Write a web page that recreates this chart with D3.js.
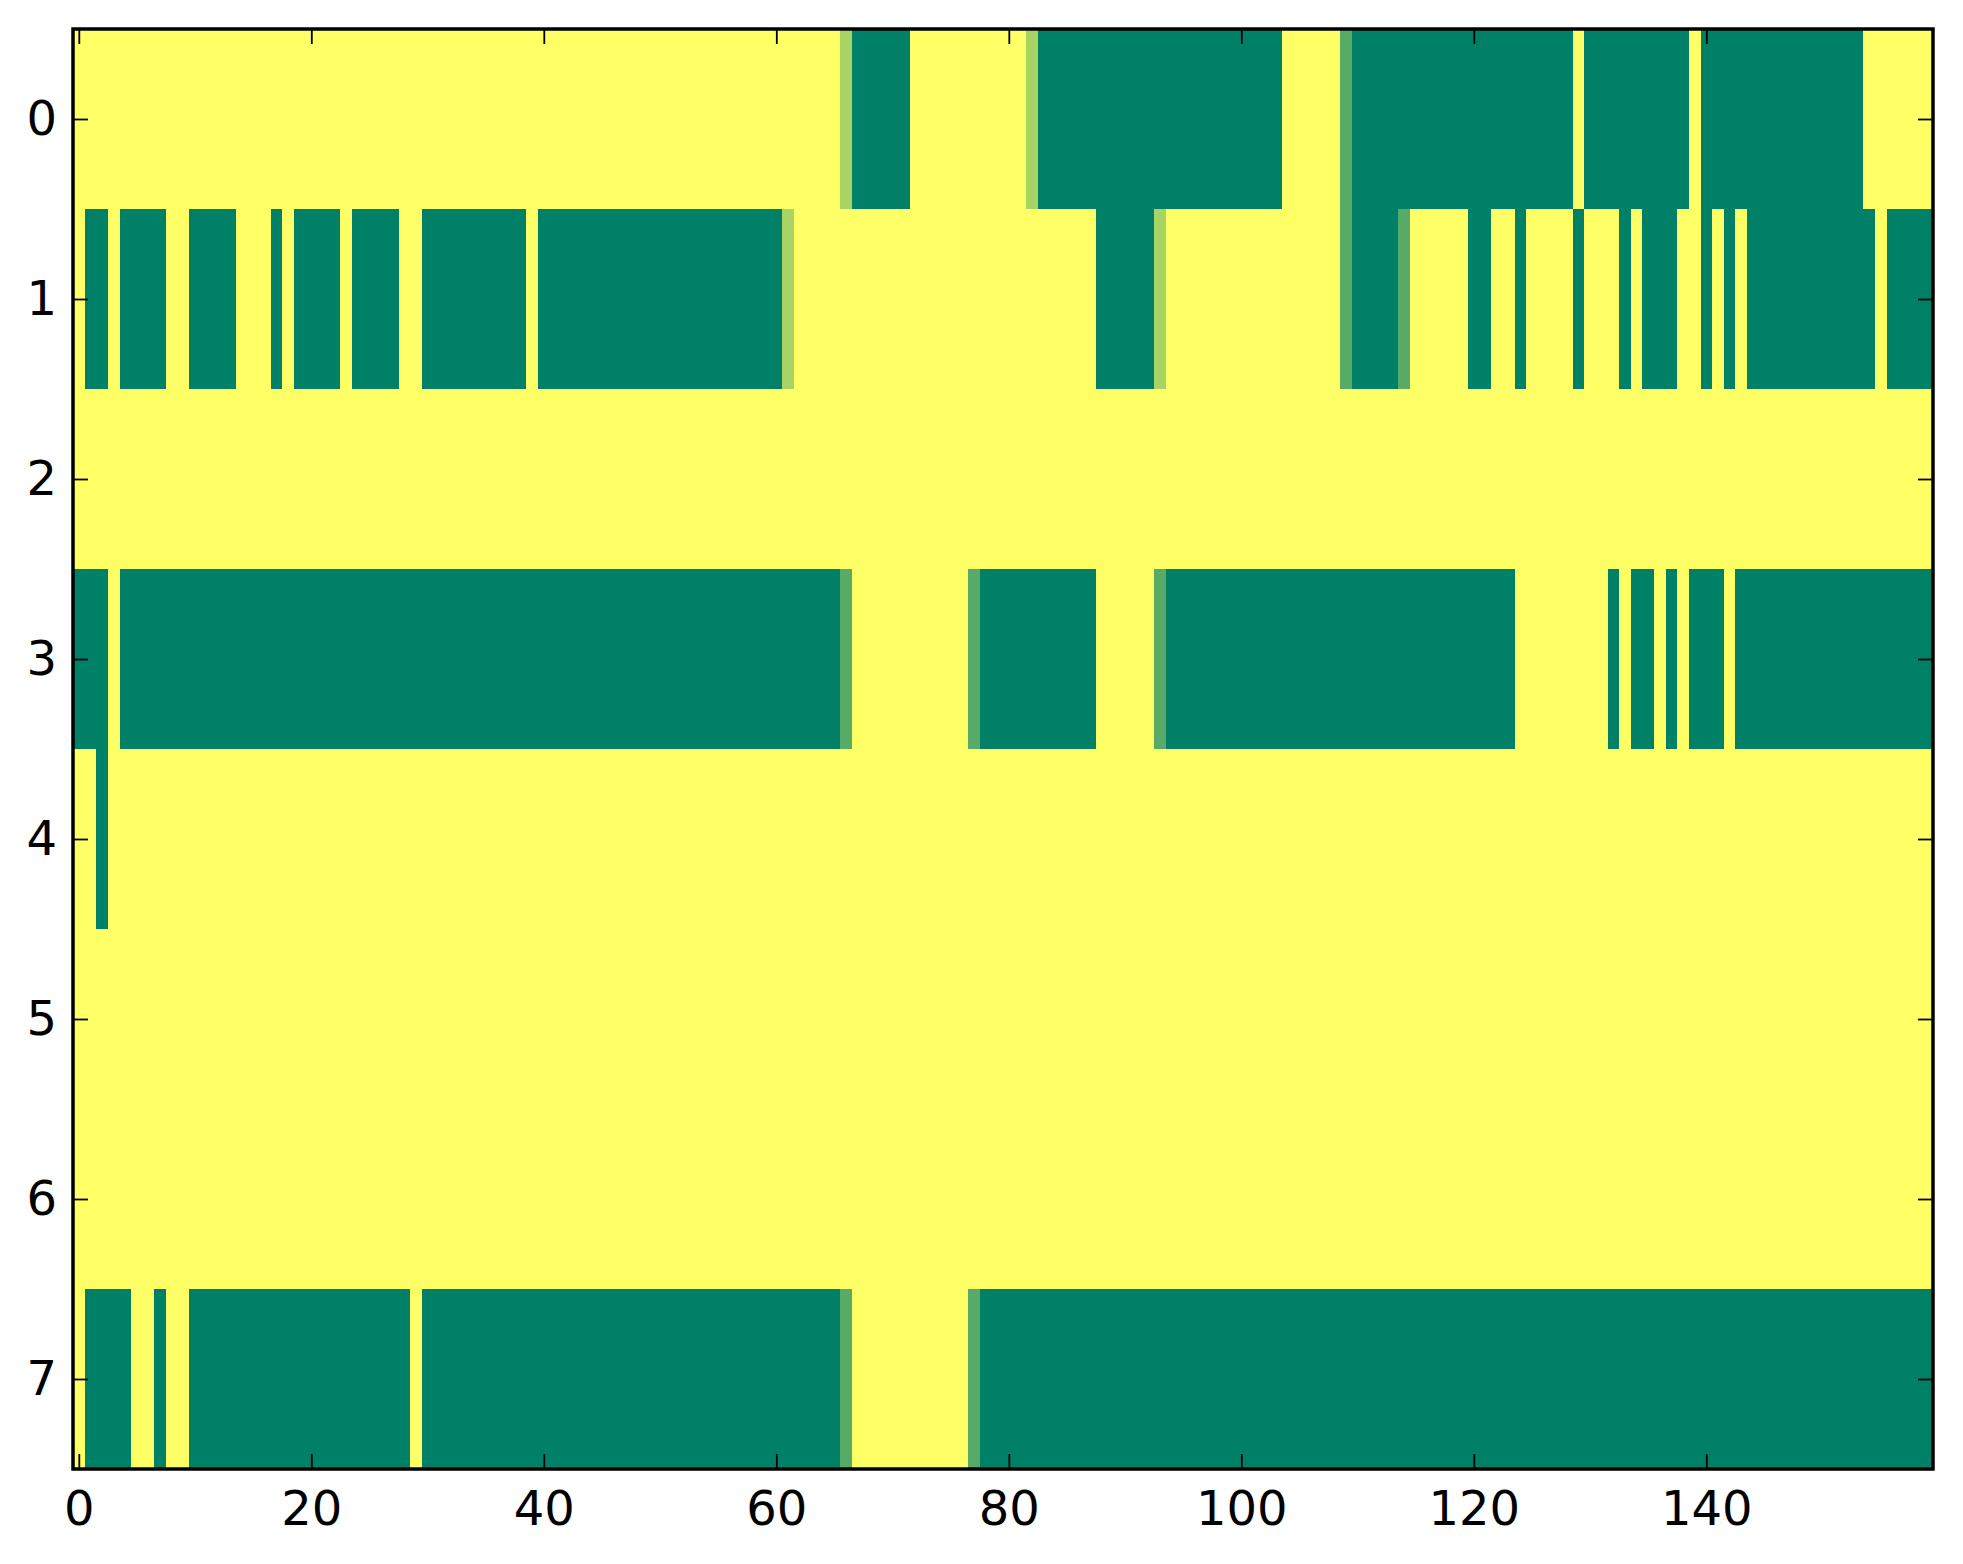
<!DOCTYPE html>
<html>
<head>
<meta charset="utf-8">
<script src="https://cdn.jsdelivr.net/npm/d3@7"></script>
<style>
  body { margin: 0; background: #fff; }
  .tick text { font-family: 'DejaVu Sans', sans-serif; font-size: 48px; fill: #000; }
  .tick line { stroke: #000; stroke-width: 1.8; }
</style>
</head>
<body>
<div id="chart"></div>
<script>
// Each row is a list of runs: [value, number of columns]
// value 1 = yellow, 0 = green, in-between = blended edge columns
const row0 = [[1, 66], [0.66, 1], [0, 5], [1, 10], [0.66, 1], [0, 21], [1, 5], [0.34, 1], [0, 19], [1, 1], [0, 9], [1, 1], [0, 14], [1, 6]];
const row1 = [[1, 1], [0, 2], [1, 1], [0, 4], [1, 2], [0, 4], [1, 3], [0, 1], [1, 1], [0, 4], [1, 1], [0, 4], [1, 2], [0, 9], [1, 1], [0, 21], [0.66, 1], [1, 26], [0, 5], [0.66, 1], [1, 15], [0.34, 1], [0, 4], [0.34, 1], [1, 5], [0, 2], [1, 2], [0, 1], [1, 4], [0, 1], [1, 3], [0, 1], [1, 1], [0, 3], [1, 2], [0, 1], [1, 1], [0, 1], [1, 1], [0, 11], [1, 1], [0, 4]];
const row2 = [[1, 160]];
const row3 = [[0, 3], [1, 1], [0, 62], [0.34, 1], [1, 10], [0.34, 1], [0, 10], [1, 5], [0.34, 1], [0, 30], [1, 8], [0, 1], [1, 1], [0, 2], [1, 1], [0, 1], [1, 1], [0, 3], [1, 1], [0, 17]];
const row4 = [[1, 2], [0, 1], [1, 157]];
const row5 = [[1, 160]];
const row6 = [[1, 160]];
const row7 = [[1, 1], [0, 4], [1, 2], [0, 1], [1, 2], [0, 19], [1, 1], [0, 36], [0.34, 1], [1, 10], [0.34, 1], [0, 82]];

const rows = [row0, row1, row2, row3, row4, row5, row6, row7];
const nCols = 160;
const xTicks = [0, 20, 40, 60, 80, 100, 120, 140];
const yTicks = [0, 1, 2, 3, 4, 5, 6, 7];

class Heatmap {
  constructor(_config, _rows) {
    this.config = {
      parentElement: _config.parentElement,
      containerWidth: 1963,
      containerHeight: 1564,
      margin: { top: 29, right: 30, bottom: 95, left: 73 },
      tickLength: 15
    };
    this.rows = _rows;
    this.initVis();
  }

  initVis() {
    const vis = this;
    const m = vis.config.margin;
    vis.width = vis.config.containerWidth - m.left - m.right;
    vis.height = vis.config.containerHeight - m.top - m.bottom;

    vis.svg = d3.select(vis.config.parentElement).append('svg')
      .attr('width', vis.config.containerWidth)
      .attr('height', vis.config.containerHeight);

    vis.chart = vis.svg.append('g')
      .attr('transform', `translate(${m.left},${m.top})`);

    vis.x = d3.scaleLinear().domain([-0.5, nCols - 0.5]).range([0, vis.width]);
    vis.y = d3.scaleLinear().domain([-0.5, vis.rows.length - 0.5]).range([0, vis.height]);

    // matplotlib "summer" colormap
    vis.colour = v => d3.rgb(255 * v, 255 * (0.5 + v / 2), 102);

    // expand runs into cells
    vis.cells = [];
    vis.rows.forEach((runs, r) => {
      let c = 0;
      runs.forEach(([v, n]) => {
        for (let i = 0; i < n; i++) vis.cells.push({ row: r, col: c++, value: v });
      });
    });

    vis.renderVis();
  }

  renderVis() {
    const vis = this;
    const t = vis.config.tickLength;

    vis.chart.append('g')
      .attr('shape-rendering', 'crispEdges')
      .selectAll('rect')
      .data(vis.cells)
      .join('rect')
        .attr('x', d => vis.x(d.col - 0.5))
        .attr('y', d => vis.y(d.row - 0.5))
        .attr('width', d => vis.x(d.col + 0.5) - vis.x(d.col - 0.5) + 0.5)
        .attr('height', d => vis.y(d.row + 0.5) - vis.y(d.row - 0.5) + 0.5)
        .attr('fill', d => vis.colour(d.value));

    const noDomain = g => g.select('.domain').remove();

    vis.chart.append('g')
      .attr('transform', `translate(0,${vis.height})`)
      .call(d3.axisBottom(vis.x).tickValues(xTicks).tickSizeInner(-t).tickSizeOuter(0).tickPadding(22))
      .call(noDomain);

    vis.chart.append('g')
      .call(d3.axisTop(vis.x).tickValues(xTicks).tickSizeInner(-t).tickSizeOuter(0).tickFormat(''))
      .call(noDomain);

    vis.chart.append('g')
      .call(d3.axisLeft(vis.y).tickValues(yTicks).tickSizeInner(-t).tickSizeOuter(0).tickPadding(16))
      .call(noDomain);

    vis.chart.append('g')
      .attr('transform', `translate(${vis.width},0)`)
      .call(d3.axisRight(vis.y).tickValues(yTicks).tickSizeInner(-t).tickSizeOuter(0).tickFormat(''))
      .call(noDomain);

    vis.chart.selectAll('.tick text').attr('font-size', null).attr('font-family', null);

    // frame
    vis.chart.append('rect')
      .attr('width', vis.width)
      .attr('height', vis.height)
      .attr('fill', 'none')
      .attr('stroke', '#000')
      .attr('stroke-width', 3.5);
  }
}

new Heatmap({ parentElement: '#chart' }, rows);
</script>
</body>
</html>
